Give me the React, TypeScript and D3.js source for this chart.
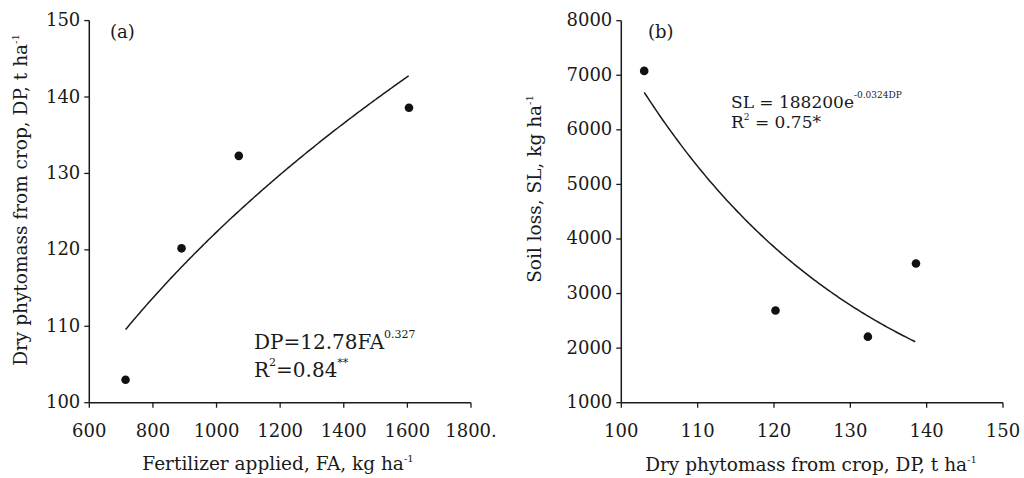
import { useEffect } from "react";
import * as d3 from "d3";

// panel (a): fertilizer applied vs dry phytomass
const faValues = [714, 890, 1070, 1605];
const dpValues = [103.0, 120.2, 132.3, 138.6];
// panel (b): dry phytomass vs soil loss
const slValues = [7080, 2690, 2210, 3550];

const aXTicks = [600, 800, 1000, 1200, 1400, 1600, 1800];
const aYTicks = [100, 110, 120, 130, 140, 150];
const bXTicks = [100, 110, 120, 130, 140, 150];
const bYTicks = [1000, 2000, 3000, 4000, 5000, 6000, 7000, 8000];

// fitted equations shown in the figure
const powA = 12.78, powB = 0.327;
const expA = 188200, expB = -0.0324;

const FONT = "'DejaVu Serif', 'Liberation Serif', serif";
const INK = "#1a1a1a";

const ax = d3.scaleLinear().domain([600, 1800]).range([89.3, 471]);
const ay = d3.scaleLinear().domain([100, 150]).range([402.7, 20.6]);
const bx = d3.scaleLinear().domain([100, 150]).range([621.3, 1003]);
const by = d3.scaleLinear().domain([1000, 8000]).range([402.7, 20.7]);

function Axes({ x, y, xTicks, yTicks, xFmt }) {
  const [x0, x1] = x.range();
  const [y0, y1] = y.range();
  return (
    <g stroke={INK} fill={INK} fontFamily={FONT} fontSize={18}>
      <line x1={x0} x2={x1} y1={y0} y2={y0} strokeWidth={1.5} />
      <line x1={x0} x2={x0} y1={y0} y2={y1} strokeWidth={1.5} />
      {xTicks.map(t => (
        <g key={"x" + t}>
          <line x1={x(t)} x2={x(t)} y1={y0} y2={y0 + 5} strokeWidth={1.3} />
          <text x={x(t)} y={y0 + 34} textAnchor="middle" stroke="none">{xFmt ? xFmt(t) : t}</text>
        </g>
      ))}
      {yTicks.map(t => (
        <g key={"y" + t}>
          <line x1={x0 - 5} x2={x0} y1={y(t)} y2={y(t)} strokeWidth={1.3} />
          <text x={x0 - 9} y={y(t) + 5.5} textAnchor="end" stroke="none">{t}</text>
        </g>
      ))}
    </g>
  );
}

export default function App() {
  useEffect(() => { document.body.style.margin = "0"; }, []);

  const curveA = d3.range(faValues[0], faValues[3] + 1, 5).map(f => [f, powA * Math.pow(f, powB)]);
  const curveB = d3.range(dpValues[0], dpValues[3] + 0.01, 0.25).map(d => [d, expA * Math.exp(expB * d)]);
  const lineA = d3.line().x(d => ax(d[0])).y(d => ay(d[1]));
  const lineB = d3.line().x(d => bx(d[0])).y(d => by(d[1]));

  return (
    <svg width={1024} height={478} style={{ display: "block", background: "#fff" }}>
      <Axes x={ax} y={ay} xTicks={aXTicks} yTicks={aYTicks} xFmt={t => (t === 1800 ? "1800." : t)} />
      <Axes x={bx} y={by} xTicks={bXTicks} yTicks={bYTicks} />

      <path d={lineA(curveA)} fill="none" stroke={INK} strokeWidth={1.5} />
      <path d={lineB(curveB)} fill="none" stroke={INK} strokeWidth={1.5} />

      {faValues.map((f, i) => (
        <circle key={"a" + i} cx={ax(f)} cy={ay(dpValues[i])} r={4.3} fill="#111" />
      ))}
      {dpValues.map((d, i) => (
        <circle key={"b" + i} cx={bx(d)} cy={by(slValues[i])} r={4.3} fill="#111" />
      ))}

      <g fontFamily={FONT} fill={INK}>
        <text x={110} y={38} fontSize={18}>(a)</text>
        <text x={648} y={38} fontSize={18}>(b)</text>

        <text x={254} y={349} fontSize={20}>
          DP=12.78FA<tspan fontSize={11} dy={-11}>0.327</tspan>
        </text>
        <text x={254} y={377} fontSize={20}>
          R<tspan fontSize={11} dy={-11}>2</tspan><tspan dy={11}>=0.84</tspan><tspan fontSize={11} dy={-11}>**</tspan>
        </text>

        <text x={731} y={107.5} fontSize={17}>
          SL = 188200e<tspan fontSize={9} dy={-10}>-0.0324DP</tspan>
        </text>
        <text x={731} y={127.5} fontSize={17}>
          R<tspan fontSize={9} dy={-8}>2</tspan><tspan dy={8}> = 0.75*</tspan>
        </text>

        <text x={278} y={470} fontSize={18.5} textAnchor="middle">
          Fertilizer applied, FA, kg ha<tspan fontSize={10} dy={-8}>-1</tspan>
        </text>
        <text x={811} y={471} fontSize={18.5} textAnchor="middle">
          Dry phytomass from crop, DP, t ha<tspan fontSize={10} dy={-8}>-1</tspan>
        </text>
        <text transform="translate(27,200) rotate(-90)" fontSize={18.5} textAnchor="middle">
          Dry phytomass from crop, DP, t ha<tspan fontSize={10} dy={-8}>-1</tspan>
        </text>
        <text transform="translate(541,189) rotate(-90)" fontSize={18.5} textAnchor="middle">
          Soil loss, SL, kg ha<tspan fontSize={10} dy={-8}>-1</tspan>
        </text>
      </g>
    </svg>
  );
}
